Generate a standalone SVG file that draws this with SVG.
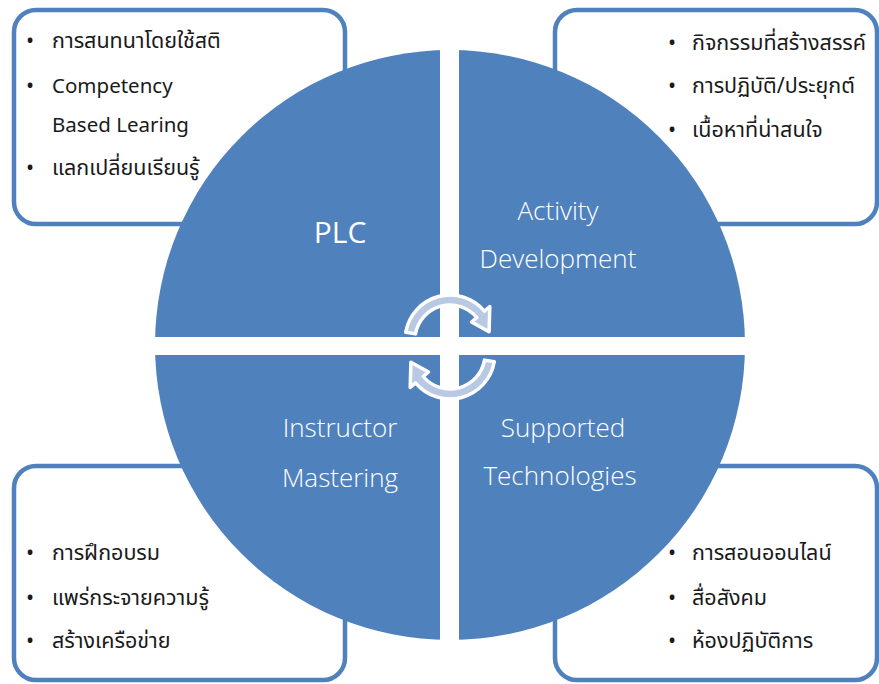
<svg xmlns="http://www.w3.org/2000/svg" width="879" height="684" viewBox="0 0 879 684">
<style>
.box{fill:#ffffff;stroke:#4f81bd;stroke-width:4.5}
.q{fill:#4f81bd}
.gap{fill:#ffffff}
.t{font-family:"Noto Sans Thai","Leelawadee UI","Tahoma","Noto Sans","DejaVu Sans",sans-serif;font-size:21.5px;fill:#1a1a1a}
.e{font-size:20.5px}
.lab{font-family:"Open Sans","Noto Sans",sans-serif;font-weight:300;font-size:26px;fill:#ffffff;text-anchor:middle}
.arr{fill:#b9c9e3;stroke:#ffffff;stroke-width:3.5;stroke-linejoin:round}
</style>
<g id="box-plc"><rect class="box" x="14" y="10" width="331" height="214" rx="22"/>
<text class="t" x="26" y="48">•</text><text class="t" x="52" y="48">การสนทนาโดยใช้สติ</text>
<text class="t" x="26" y="93">•</text><text class="t e" x="52" y="93">Competency</text>
<text class="t e" x="52" y="132">Based Learing</text>
<text class="t" x="26" y="175">•</text><text class="t" x="52" y="175">แลกเปลี่ยนเรียนรู้</text></g>
<g id="box-activity"><rect class="box" x="555" y="10" width="322" height="214" rx="22"/>
<text class="t" x="668" y="50">•</text><text class="t" x="692" y="50">กิจกรรมที่สร้างสรรค์</text>
<text class="t" x="668" y="93">•</text><text class="t" x="692" y="93">การปฏิบัติ/ประยุกต์</text>
<text class="t" x="668" y="137">•</text><text class="t" x="692" y="137">เนื้อหาที่น่าสนใจ</text></g>
<g id="box-instructor"><rect class="box" x="14" y="466" width="331" height="214" rx="22"/>
<text class="t" x="26" y="560">•</text><text class="t" x="52" y="560">การฝึกอบรม</text>
<text class="t" x="26" y="605">•</text><text class="t" x="52" y="605">แพร่กระจายความรู้</text>
<text class="t" x="26" y="648">•</text><text class="t" x="52" y="648">สร้างเครือข่าย</text></g>
<g id="box-tech"><rect class="box" x="555" y="466" width="322" height="214" rx="22"/>
<text class="t" x="668" y="560">•</text><text class="t" x="692" y="560">การสอนออนไลน์</text>
<text class="t" x="668" y="605">•</text><text class="t" x="692" y="605">สื่อสังคม</text>
<text class="t" x="668" y="648">•</text><text class="t" x="692" y="648">ห้องปฏิบัติการ</text></g>
<g id="circle">
<circle class="q" cx="450" cy="345" r="295"/>
<rect class="gap" x="440" y="40" width="19" height="610"/>
<rect class="gap" x="145" y="337" width="610" height="18"/>
</g>
<g id="q-plc"><text class="lab" x="340" y="243" style="font-size:30px;font-weight:400">PLC</text></g>
<g id="q-activity"><text class="lab" x="558" y="220">Activity</text><text class="lab" x="558" y="268">Development</text></g>
<g id="q-instructor"><text class="lab" x="340" y="437">Instructor</text><text class="lab" x="340" y="487">Mastering</text></g>
<g id="q-tech"><text class="lab" x="563" y="437">Supported</text><text class="lab" x="560" y="485">Technologies</text></g>
<g id="connectors">
<path id="arrow-top" class="arr" d="M405.7,332.2 A45,45 0 0 1 484.5,311.1 L489.8,306.6 L489.1,331.7 L471.5,322.0 L476.8,317.5 A35,35 0 0 0 415.5,333.9 Z"/>
<path id="arrow-bottom" class="arr" transform="rotate(180 450 347)" d="M405.7,332.2 A45,45 0 0 1 484.5,311.1 L489.8,306.6 L489.1,331.7 L471.5,322.0 L476.8,317.5 A35,35 0 0 0 415.5,333.9 Z"/>
</g>
</svg>
